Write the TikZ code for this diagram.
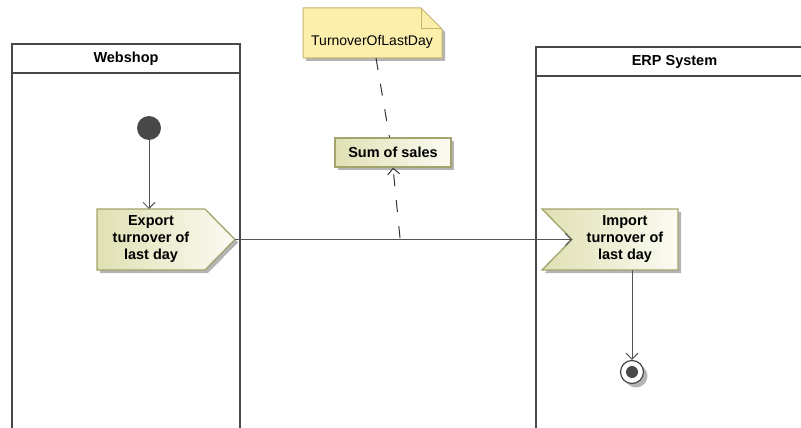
\documentclass[tikz,border=0pt]{standalone}
\usepackage{fontspec}
\setmainfont{Liberation Sans}
\usetikzlibrary{arrows.meta,shadows,calc}

\definecolor{lanegray}{HTML}{484848}
\definecolor{wiregray}{HTML}{555555}
\definecolor{actborder}{HTML}{A3A36C}
\definecolor{actdark}{HTML}{E0E0B4}
\definecolor{actlight}{HTML}{FBFBF3}
\definecolor{notefill}{HTML}{FCEFAC}
\definecolor{noteborder}{HTML}{C8B46C}
\definecolor{shadowgray}{HTML}{B4B4B4}

\begin{document}
\begin{tikzpicture}[
    x=1pt, y=-1pt,
    font=\fontsize{14}{17}\selectfont,
    lane/.style={draw=lanegray, line width=2pt},
    lanetitle/.style={font=\fontsize{14.5}{17}\selectfont\bfseries},
    actionbox/.style={draw=actborder, line width=1.3pt, left color=actdark, right color=actlight,
        drop shadow={shadow xshift=3pt, shadow yshift=-3pt, fill=shadowgray, opacity=1}},
    acttext/.style={align=center, font=\fontsize{14.5}{17}\selectfont\bfseries, inner sep=0pt},
    notebox/.style={draw=noteborder, line width=1pt, fill=notefill,
        drop shadow={shadow xshift=3pt, shadow yshift=-3pt, fill=shadowgray, opacity=1}},
    wire/.style={draw=wiregray, line width=1pt, -{Straight Barb[length=6pt, width=12pt]}},
    link/.style={draw=black!80, line width=1pt, dash pattern=on 12pt off 14pt}
]
    \useasboundingbox (0,0) rectangle (801,428);
    \clip (0,0) rectangle (801,428);

    % Webshop lane
    \draw[lane] (12,440) -- (12,44) -- (240,44) -- (240,440);
    \draw[lane] (12,73) -- (240,73);
    \node[lanetitle] (webshop) at (126,58.5) {Webshop};

    % ERP lane
    \draw[lane] (536,440) -- (536,47) -- (813,47) -- (813,440);
    \draw[lane] (536,76) -- (813,76);
    \node[lanetitle] (erp) at (674.5,61.5) {ERP System};

    % Start node
    \node[circle, fill=lanegray, minimum size=24pt, inner sep=0pt] (start) at (149,128) {};

    % Send signal action
    \path[actionbox] (97,209) -- (205,209) -- (235,239.5) -- (205,270) -- (97,270) -- cycle;
    \coordinate (exptop) at (149,209);
    \coordinate (exptip) at (235,239.5);
    \node[acttext] (export) at (151,239) {Export\\turnover of\\last day};

    % Accept event action
    \path[actionbox] (542,209) -- (678,209) -- (678,270) -- (542,270) -- (572,239.5) -- cycle;
    \coordinate (impnotch) at (572,239.5);
    \coordinate (impbot) at (632,270);
    \node[acttext] (import) at (625,239) {Import\\turnover of\\last day};

    % Final node
    \node[circle, draw=lanegray, line width=1.2pt, fill=white, minimum size=23pt, inner sep=0pt,
        drop shadow={shadow xshift=4pt, shadow yshift=-4pt, fill=shadowgray, opacity=1}] (final) at (632,372) {};
    \fill[lanegray] (final.center) circle (6);

    % Object and note
    \node[actionbox, minimum width=116pt, minimum height=29pt, inner sep=0pt,
        font=\fontsize{14.5}{17}\selectfont\bfseries] (sales) at (393,152.5) {Sum of sales};
    \path[notebox] (303,8) -- (421,8) -- (442,29) -- (442,58) -- (303,58) -- cycle;
    \draw[noteborder, line width=1pt] (421,8) -- (421,29) -- (442,29);
    \node[inner sep=0pt] (note) at (372,42) {TurnoverOfLastDay};
    \coordinate (notebot) at (376,58);
    \coordinate (flowpt) at (400,238);

    % Flows
    \draw[wire] (start) -- (exptop);
    \draw[wire] (exptip) -- (impnotch);
    \draw[wire] (impbot) -- (final);
    \draw[link] (notebot) -- ($(sales.north)+(-3.5,0)$);
    \draw[link, -{Straight Barb[length=6pt, width=12pt]}] (flowpt) -- (sales.south);

\end{tikzpicture}
\end{document}
